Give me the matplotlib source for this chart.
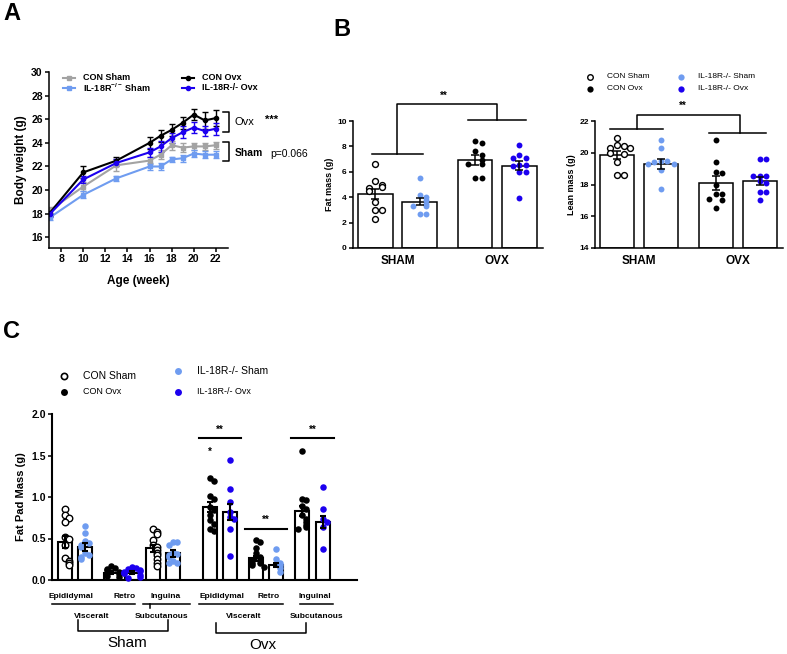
import numpy as np
import matplotlib
matplotlib.use("Agg")
import matplotlib.pyplot as plt
from matplotlib.lines import Line2D

plt.rcParams["font.family"] = ["Liberation Sans", "DejaVu Sans"]
plt.rcParams["mathtext.fontset"] = "custom"
plt.rcParams["mathtext.rm"] = "Liberation Sans:bold"
plt.rcParams["mathtext.default"] = "rm"

W, H = 787, 654

# ---- panel A: body weight ----
weeks = [7, 10, 13, 16, 17, 18, 19, 20, 21, 22]
con_sham = [18.3, 20.3, 22.1, 22.5, 23.0, 23.8, 23.6, 23.7, 23.7, 23.8]
con_sham_err = [0.3, 0.4, 0.5, 0.3, 0.4, 0.4, 0.4, 0.3, 0.3, 0.3]
il_sham = [17.7, 19.6, 21.0, 22.0, 22.0, 22.6, 22.7, 23.1, 23.0, 23.0]
il_sham_err = [0.2, 0.3, 0.2, 0.3, 0.3, 0.2, 0.3, 0.3, 0.3, 0.3]
con_ovx = [18.1, 21.5, 22.5, 24.0, 24.6, 25.1, 25.7, 26.4, 25.9, 26.1]
con_ovx_err = [0.3, 0.5, 0.3, 0.5, 0.5, 0.5, 0.5, 0.5, 0.7, 0.7]
il_ovx = [18.0, 20.9, 22.3, 23.2, 23.7, 24.4, 24.9, 25.3, 25.0, 25.2]
il_ovx_err = [0.3, 0.3, 0.3, 0.4, 0.5, 0.4, 0.5, 0.5, 0.4, 0.5]

# ---- panel B: fat / lean mass (order: CON Sham, IL Sham, CON Ovx, IL Ovx) ----
fat_mean = [4.28, 3.65, 6.92, 6.47]
fat_sem = [0.4, 0.3, 0.4, 0.35]
fat_pts = [
    [6.6, 5.3, 5.0, 4.8, 4.7, 4.5, 3.6, 3.0, 3.0, 2.3],
    [5.5, 4.2, 4.0, 3.8, 3.5, 3.3, 3.3, 2.65, 2.65],
    [8.4, 8.3, 7.6, 7.3, 6.9, 6.6, 6.6, 5.5, 5.5],
    [8.1, 7.35, 7.1, 7.1, 6.5, 6.5, 6.45, 5.95, 5.95, 3.9],
]
lean_mean = [19.83, 19.3, 18.09, 18.23]
lean_sem = [0.25, 0.3, 0.45, 0.25]
lean_pts = [
    [20.9, 20.5, 20.4, 20.3, 20.3, 20.0, 19.9, 19.4, 18.6, 18.6],
    [20.8, 20.3, 19.5, 19.5, 19.4, 19.3, 19.3, 18.9, 17.7],
    [20.8, 19.4, 18.8, 18.7, 18.0, 17.4, 17.4, 17.1, 17.0, 16.5],
    [19.6, 19.6, 18.55, 18.55, 18.55, 18.2, 18.1, 17.5, 17.5, 17.0],
]
b_groups = ["SHAM", "OVX"]

# ---- panel C: fat pads ----
pad_names = ["Epididymal", "Retro", "Inguinal"]
pad_mean = [0.46, 0.40, 0.09, 0.09, 0.38, 0.32, 0.875, 0.82, 0.26, 0.18, 0.83, 0.70]
pad_sem = [0.07, 0.05, 0.015, 0.015, 0.045, 0.04, 0.06, 0.1, 0.03, 0.02, 0.06, 0.07]
pad_pts = [
    [0.86, 0.78, 0.75, 0.70, 0.52, 0.50, 0.42, 0.27, 0.23, 0.20, 0.18],
    [0.65, 0.57, 0.47, 0.45, 0.42, 0.40, 0.33, 0.30, 0.28, 0.25],
    [0.17, 0.15, 0.13, 0.12, 0.10, 0.08, 0.07, 0.05, 0.04],
    [0.16, 0.15, 0.13, 0.12, 0.11, 0.10, 0.09, 0.08, 0.06, 0.04, 0.02],
    [0.61, 0.58, 0.55, 0.48, 0.42, 0.40, 0.36, 0.33, 0.30, 0.25, 0.20, 0.17],
    [0.46, 0.46, 0.42, 0.34, 0.31, 0.30, 0.28, 0.23, 0.21, 0.20],
    [1.23, 1.19, 1.01, 0.98, 0.88, 0.84, 0.78, 0.72, 0.68, 0.62, 0.59],
    [1.45, 1.10, 0.94, 0.82, 0.76, 0.73, 0.62, 0.29],
    [0.48, 0.46, 0.38, 0.32, 0.28, 0.26, 0.24, 0.21, 0.20, 0.18, 0.16],
    [0.37, 0.25, 0.21, 0.18, 0.14, 0.10],
    [1.55, 0.97, 0.96, 0.89, 0.86, 0.78, 0.74, 0.70, 0.66, 0.64, 0.62],
    [1.12, 0.85, 0.74, 0.70, 0.64, 0.37],
]
# point style per bar: 'open', 'black', 'light', 'blue'
pad_style = ["open", "light", "black", "blue", "open", "light",
             "black", "blue", "black", "light", "black", "blue"]

GRAY = "#a3a3a3"
LIGHT = "#6f9cf0"
BLUE = "#1c00ef"


def rect(l, t, r, b):
    return [l / W, 1 - b / H, (r - l) / W, (b - t) / H]


def ftext(x, y, s, **kw):
    fig.text(x / W, 1 - y / H, s, **kw)


def fline(xs, ys, lw=1.1):
    fig.add_artist(Line2D([x / W for x in xs], [1 - y / H for y in ys],
                          transform=fig.transFigure, color="black", lw=lw))


def spread(vals, step, thresh, maxk=3):
    offs, placed = [], []
    for v in vals:
        n = sum(1 for p in placed if abs(p - v) < thresh) % (2 * maxk + 1)
        k = (n + 1) // 2
        offs.append(k * step * (1 if n % 2 == 1 else -1))
        placed.append(v)
    return np.array(offs)


def style_ax(ax, fs):
    for s in ["top", "right"]:
        ax.spines[s].set_visible(False)
    for s in ["left", "bottom"]:
        ax.spines[s].set_linewidth(1.1)
    ax.tick_params(width=1.1, length=3, labelsize=fs, pad=1.5)
    for lab in ax.get_xticklabels() + ax.get_yticklabels():
        lab.set_fontweight("bold")


def dots(ax, x, vals, kind, step, thresh, s=16, maxk=3):
    xs = x + spread(vals, step, thresh, maxk)
    if kind == "open":
        ax.scatter(xs, vals, s=s, facecolors="white", edgecolors="black",
                   linewidths=1.0, zorder=3, clip_on=False)
    else:
        c = {"black": "black", "light": LIGHT, "blue": BLUE}[kind]
        ax.scatter(xs, vals, s=s, color=c, linewidths=0, zorder=3, clip_on=False)


fig = plt.figure(figsize=(W / 100, H / 100), dpi=100)

# ================= A =================
axA = fig.add_axes(rect(49, 72, 228, 248))
series = [(con_sham, con_sham_err, GRAY, "s"), (il_sham, il_sham_err, LIGHT, "s"),
          (con_ovx, con_ovx_err, "black", "o"), (il_ovx, il_ovx_err, BLUE, "o")]
for y, e, c, m in series:
    axA.errorbar(weeks, y, yerr=e, color=c, marker=m, ms=3, lw=1.5,
                 capsize=2, elinewidth=1, capthick=1)
axA.set_xlim(6.9, 23.1)
axA.set_ylim(15.1, 30)
axA.set_xticks(range(8, 23, 2))
axA.set_yticks(range(16, 31, 2))
style_ax(axA, 7.5)
axA.set_xlabel("Age (week)", fontsize=8.5, fontweight="bold", labelpad=8)
axA.set_ylabel("Body weight (g)", fontsize=8.5, fontweight="bold", labelpad=3)

leg = [("CON Sham", GRAY, "s", 63, 78), ("IL-18R$^{-/-}$ Sham", LIGHT, "s", 63, 88),
       ("CON Ovx", "black", "o", 182, 78), ("IL-18R-/- Ovx", BLUE, "o", 182, 88)]
for lab, c, m, x, y in leg:
    fig.add_artist(Line2D([x / W, (x + 6) / W, (x + 12) / W], [1 - y / H] * 3, color=c,
                          lw=1.5, marker=m, ms=3, markevery=[1], transform=fig.transFigure))
    ftext(x + 20, y, lab, fontsize=6.5, fontweight="bold", va="center")

fline([223, 229, 229, 223], [112, 112, 132, 132])
fline([223, 229, 229, 223], [142, 142, 161, 161])
ftext(235, 122, "Ovx", fontsize=8, va="center")
ftext(265, 120, "***", fontsize=8, fontweight="bold", va="center")
ftext(235, 153, "Sham", fontsize=7.5, fontweight="bold", va="center")
ftext(270, 154, "p=0.066", fontsize=7.5, va="center")
ftext(3, 14, "A", fontsize=17, fontweight="bold", va="center")

# ================= B =================
bpos = np.array([0, 1, 2.25, 3.25])
kinds = ["open", "light", "black", "blue"]


def bar_panel(ax, mean, sem, pts, ylim, ticks, ylabel, thresh, base):
    ax.bar(bpos, np.array(mean) - base, bottom=base, width=0.78, color="white",
           edgecolor="black", lw=1.1, zorder=2)
    for i in range(4):
        dots(ax, bpos[i], pts[i], kinds[i], 0.15, thresh, s=18)
    ax.errorbar(bpos, mean, yerr=sem, fmt="none", ecolor="black", elinewidth=1.1,
                capsize=3, capthick=1.1, zorder=4)
    ax.set_xlim(-0.5, 3.78)
    ax.set_ylim(*ylim)
    ax.set_yticks(ticks)
    ax.set_xticks([0.5, 2.75])
    ax.set_xticklabels(b_groups)
    style_ax(ax, 6)
    ax.tick_params(axis="x", length=0, labelsize=8.5, pad=5)
    for lab in ax.get_xticklabels():
        lab.set_fontweight("bold")
    ax.set_ylabel(ylabel, fontsize=6.5, fontweight="bold", labelpad=2)


axF = fig.add_axes(rect(353, 121, 543, 248))
bar_panel(axF, fat_mean, fat_sem, fat_pts, (0, 10), range(0, 11, 2), "Fat mass (g)", 0.4, 0)
kw = dict(color="black", lw=1.1, clip_on=False)
axF.plot([-0.07, 1.07], [7.4, 7.4], **kw)
axF.plot([2.1, 3.4], [10.1, 10.1], **kw)
axF.plot([0.5, 0.5, 2.75, 2.75], [7.4, 11.3, 11.3, 10.1], **kw)
axF.text(1.55, 12.0, "**", fontsize=7, fontweight="bold", ha="center", va="center")

axL = fig.add_axes(rect(595, 121, 783, 248))
bar_panel(axL, lean_mean, lean_sem, lean_pts, (14, 22), range(14, 23, 2), "Lean mass (g)", 0.33, 14)
axL.plot([-0.15, 1.05], [21.48, 21.48], **kw)
axL.plot([2.1, 3.4], [21.23, 21.23], **kw)
axL.plot([0.45, 0.45, 2.8, 2.8], [21.48, 22.35, 22.35, 21.23], **kw)
axL.text(1.5, 22.95, "**", fontsize=7, fontweight="bold", ha="center", va="center")

legB = [("CON Sham", "open", 590, 77), ("CON Ovx", "black", 590, 89),
        ("IL-18R-/- Sham", "light", 681, 77), ("IL-18R-/- Ovx", "blue", 681, 89)]
for lab, k, x, y in legB:
    if k == "open":
        fig.add_artist(Line2D([x / W], [1 - y / H], marker="o", ms=4, mfc="white",
                              mec="black", mew=1, transform=fig.transFigure))
    else:
        c = {"black": "black", "light": LIGHT, "blue": BLUE}[k]
        fig.add_artist(Line2D([x / W], [1 - y / H], marker="o", ms=4.5, mfc=c,
                              mec=c, mew=0, transform=fig.transFigure))
    ftext(x + 17, y, lab, fontsize=6, va="center")
ftext(333, 30, "B", fontsize=17, fontweight="bold", va="center")

# ================= C =================
cpos = np.array([0, 0.975, 2.3, 3.35, 4.4, 5.4, 7.25, 8.25, 9.55, 10.55, 11.85, 12.9])
axC = fig.add_axes(rect(52, 414, 357, 580))
axC.bar(cpos, pad_mean, width=0.7, color="white", edgecolor="black", lw=1.5, zorder=2)
for i in range(len(cpos)):
    dots(axC, cpos[i], pad_pts[i], pad_style[i], 0.2, 0.05, s=22, maxk=2)
axC.errorbar(cpos, pad_mean, yerr=pad_sem, fmt="none", ecolor="black",
             elinewidth=1.5, capsize=2.5, capthick=1.5, zorder=4)
axC.set_xlim(-0.65, 14.6)
axC.set_ylim(0, 2.0)
axC.set_yticks([0, 0.5, 1.0, 1.5, 2.0])
axC.set_yticklabels(["0.0", "0.5", "1.0", "1.5", "2.0"])
axC.set_xticks([])
style_ax(axC, 7.5)
axC.spines["left"].set_linewidth(1.5)
axC.spines["bottom"].set_linewidth(1.5)
axC.set_ylabel("Fat Pad Mass (g)", fontsize=8, fontweight="bold", labelpad=4)

kwc = dict(color="black", lw=1.5, clip_on=False)
for a, b, yl in [(6, 7, 1.71), (8, 9, 0.62), (10, 11, 1.71)]:
    x0, x1 = cpos[a] - 0.55, cpos[b] + 0.55
    axC.plot([x0, x1], [yl, yl], **kwc)
    axC.text((x0 + x1) / 2, yl + 0.1, "**", fontsize=7, fontweight="bold",
             ha="center", va="center")
axC.text(cpos[6], 1.55, "*", fontsize=7, fontweight="bold", ha="center", va="center")

# labels under panel C
for x, s in [(71, "Epididymal"), (125, "Retro"), (166, "Inguina"),
             (222, "Epididymal"), (269, "Retro"), (315, "Inguinal")]:
    ftext(x, 597, s, fontsize=6, fontweight="bold", ha="center", va="center")
fline([52, 135], [604, 604])
fline([143, 190], [604, 604])
fline([150, 150], [604, 608])
fline([199, 283], [604, 604])
fline([300, 333], [604, 604])
for x, s in [(92, "Visceralt"), (162, "Subcutanous"), (244, "Visceralt"), (317, "Subcutanous")]:
    ftext(x, 616, s, fontsize=6, fontweight="bold", ha="center", va="center")
fline([78, 78, 168, 168], [620, 631, 631, 620])
fline([216, 216, 306, 306], [623, 633, 633, 623])
ftext(127, 643, "Sham", fontsize=11, ha="center", va="center")
ftext(263, 645, "Ovx", fontsize=11, ha="center", va="center")

legC = [("CON Sham", "open", 64, 376, 7.5), ("CON Ovx", "black", 64, 392, 6.5),
        ("IL-18R-/- Sham", "light", 178, 371, 7.5), ("IL-18R-/- Ovx", "blue", 178, 392, 6.5)]
for lab, k, x, y, fs in legC:
    if k == "open":
        fig.add_artist(Line2D([x / W], [1 - y / H], marker="o", ms=4.5, mfc="white",
                              mec="black", mew=1.2, transform=fig.transFigure))
    else:
        c = {"black": "black", "light": LIGHT, "blue": BLUE}[k]
        fig.add_artist(Line2D([x / W], [1 - y / H], marker="o", ms=5, mfc=c,
                              mec=c, mew=0, transform=fig.transFigure))
    ftext(x + 19, y, lab, fontsize=fs, va="center")
ftext(3, 332, "C", fontsize=17, fontweight="bold", va="center")

fig.savefig("out.png", dpi=100)
